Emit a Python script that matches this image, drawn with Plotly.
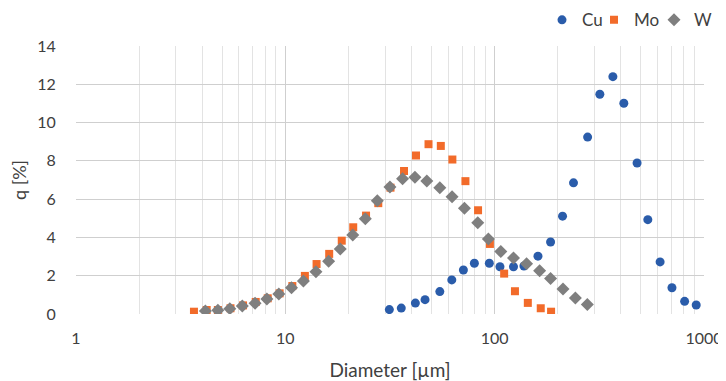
import plotly.graph_objects as go

cu_d = [31.4, 35.8, 41.8, 46.5, 54.7, 62.4, 70.9, 80.0, 94.3, 106, 123, 138, 161, 185, 211, 238, 278, 318, 367, 414, 479, 539, 617, 703, 808, 918]
cu_q = [0.23, 0.31, 0.57, 0.75, 1.17, 1.78, 2.30, 2.65, 2.65, 2.47, 2.47, 2.51, 3.02, 3.76, 5.11, 6.85, 9.24, 11.48, 12.40, 11.01, 7.89, 4.93, 2.72, 1.37, 0.66, 0.47]

mo_d = [3.66, 4.21, 4.76, 5.47, 6.28, 7.22, 8.24, 9.39, 10.8, 12.4, 14.1, 16.2, 18.6, 21.1, 24.3, 27.8, 31.8, 36.9, 42.1, 48.3, 55.3, 62.8, 72.5, 83.3, 94.9, 111, 125, 144, 166, 186]
mo_q = [0.12, 0.21, 0.21, 0.30, 0.45, 0.63, 0.82, 1.08, 1.46, 1.99, 2.61, 3.14, 3.83, 4.53, 5.14, 5.79, 6.60, 7.47, 8.28, 8.87, 8.78, 8.07, 6.94, 5.42, 3.66, 2.11, 1.19, 0.58, 0.30, 0.12]

w_d = [4.15, 4.76, 5.43, 6.23, 7.17, 8.16, 9.31, 10.7, 12.2, 14.0, 16.1, 18.3, 21.0, 24.1, 27.5, 31.6, 36.3, 41.6, 47.4, 54.7, 62.6, 71.7, 83.0, 93.3, 107, 123, 142, 164, 185, 212, 243, 277]
w_q = [0.16, 0.19, 0.28, 0.42, 0.56, 0.78, 1.05, 1.37, 1.72, 2.21, 2.75, 3.40, 4.13, 4.98, 5.91, 6.64, 7.06, 7.15, 6.95, 6.60, 6.12, 5.53, 4.77, 3.92, 3.26, 2.93, 2.63, 2.26, 1.85, 1.31, 0.84, 0.49]

x_ticks = [1, 10, 100, 1000]
y_ticks = [0, 2, 4, 6, 8, 10, 12, 14]

FONT = "Lato"
TXT = "#404040"

fig = go.Figure()
fig.add_trace(go.Scatter(x=cu_d, y=cu_q, mode="markers", name="Cu", legend="legend",
                         marker=dict(symbol="circle", size=9, color="#2A5CAA")))
fig.add_trace(go.Scatter(x=mo_d, y=mo_q, mode="markers", name="Mo", legend="legend2",
                         marker=dict(symbol="square", size=8, color="#F26B2A")))
fig.add_trace(go.Scatter(x=w_d, y=w_q, mode="markers", name="W", legend="legend3",
                         marker=dict(symbol="diamond", size=10, color="#7F7F7F")))

def leg(xpos):
    return dict(orientation="h", xref="container", yref="container",
                x=xpos, xanchor="left", y=0.967, yanchor="middle",
                font=dict(size=17, color=TXT, family=FONT), itemwidth=30,
                bgcolor="rgba(0,0,0,0)")

# page body has an 8px margin, so the figure is sized/offset to compensate
fig.update_layout(
    width=718, height=373,
    margin=dict(l=68, r=22, t=38, b=67, autoexpand=False),
    paper_bgcolor="white", plot_bgcolor="white",
    font=dict(family=FONT, size=15, color=TXT),
    showlegend=True,
    legend=leg(534 / 718), legend2=leg(586 / 718), legend3=leg(646 / 718),
)
fig.update_xaxes(type="log", range=[0, 3], tickvals=x_ticks, ticktext=[str(v) for v in x_ticks],
                 showgrid=True, gridcolor="#CFCFCF", gridwidth=1,
                 minor=dict(showgrid=True, gridcolor="#E3E3E3", gridwidth=1, dtick="D1"),
                 zeroline=False, showline=False, ticks="outside", ticklen=10, tickcolor="rgba(0,0,0,0)",
                 title=dict(text="Diameter [µm]", font=dict(size=19, color=TXT), standoff=18),
                 tickfont=dict(size=16, color=TXT))
fig.update_yaxes(range=[0, 14], tickvals=y_ticks, showgrid=True, gridcolor="#CFCFCF", gridwidth=1,
                 zeroline=False, showline=False, ticks="outside", ticklen=16, tickcolor="rgba(0,0,0,0)",
                 title=dict(text="q [%]", font=dict(size=18, color=TXT), standoff=8),
                 tickfont=dict(size=16, color=TXT))

fig.write_html("out.html")
